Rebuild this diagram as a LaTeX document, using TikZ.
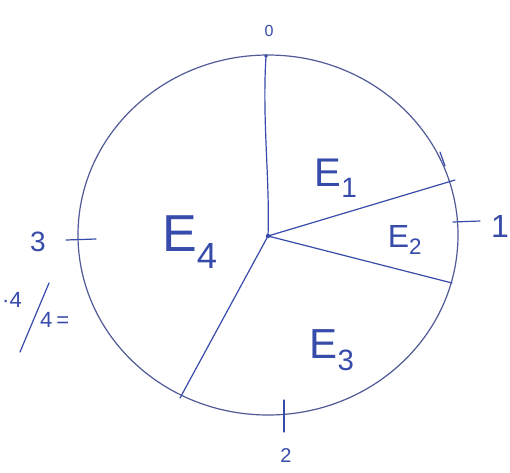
\documentclass[tikz,border=0pt]{standalone}
\usepackage{fontspec}
\setmainfont{Liberation Sans}
\begin{document}
\begin{tikzpicture}[x=1pt,y=-1pt,
  pen/.style={draw=penblue,line width=1.2pt,line cap=round},
  lbl/.style={text=penblue,inner sep=0pt}]
\definecolor{penblue}{RGB}{55,75,170}
\definecolor{rimblue}{RGB}{80,90,150}
\useasboundingbox (0,0) rectangle (510,472);
\fill[white] (0,0) rectangle (510,472);
% circle
\draw[draw=rimblue,line width=1.2pt] (268,235) ellipse [x radius=190, y radius=180];
% center and boundary points
\coordinate (c) at (268,236);
\coordinate (top) at (266,56);
\coordinate (p1) at (455,180);
\coordinate (p2) at (452,283);
\coordinate (p3) at (180,398);
\fill[penblue] (c) circle (2.2pt);
\fill[penblue] (top) circle (1.8pt);
% radii
\draw[pen] (c) .. controls (270,180) and (262,120) .. (top);
\draw[pen] (c) -- (p1);
\draw[pen] (c) -- (p2);
\draw[pen] (c) -- (p3);
% small mark near E1
\coordinate (m1) at (440,152);
\coordinate (m2) at (445,166);
\draw[pen] (m1) -- (m2);
% ticks
\coordinate (t3a) at (66,240); \coordinate (t3b) at (96,239);
\draw[pen] (t3a) -- (t3b);
\coordinate (t1a) at (453,222); \coordinate (t1b) at (480,221);
\draw[pen] (t1a) -- (t1b);
\coordinate (t2a) at (284,400); \coordinate (t2b) at (284,432);
\draw[pen] (t2a) -- (t2b);
% tick labels
\node[lbl,font=\fontsize{16}{16}\selectfont] (l0) at (269,31) {0};
\node[lbl,font=\fontsize{32}{32}\selectfont] (l1) at (500,226) {1};
\node[lbl,font=\fontsize{28}{28}\selectfont] (l3) at (38,242) {3};
\node[lbl,font=\fontsize{20}{20}\selectfont] (l2) at (286,456) {2};
% left note
\node[lbl,font=\fontsize{22}{22}\selectfont,anchor=west] (na) at (2,300) {·4};
\node[lbl,font=\fontsize{22}{22}\selectfont,anchor=west] (nb) at (40,320) {4\kern4pt=};
\coordinate (s1) at (20,352); \coordinate (s2) at (49,283);
\draw[pen] (s1) -- (s2);
% region labels
\node[lbl,font=\fontsize{40}{40}\selectfont] (e1) at (336,178) {E\textsubscript{1}};
\node[lbl,font=\fontsize{32}{32}\selectfont] (e2) at (405,240) {E\textsubscript{2}};
\node[lbl,font=\fontsize{42}{42}\selectfont] (e3) at (332,350) {E\textsubscript{3}};
\node[lbl,font=\fontsize{52}{52}\selectfont] (e4) at (190,242) {E\textsubscript{4}};
\end{tikzpicture}
\end{document}
